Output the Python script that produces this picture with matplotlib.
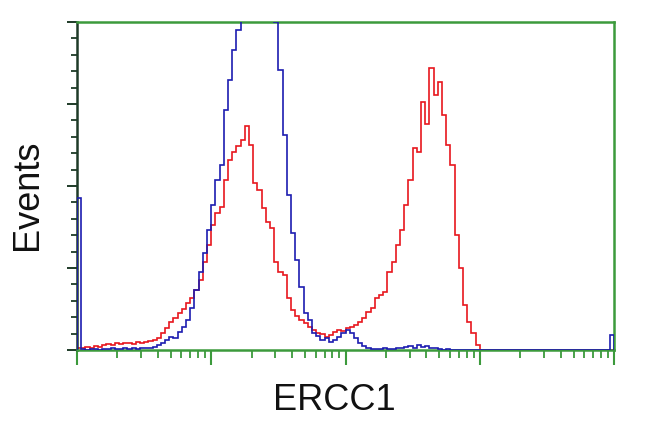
import numpy as np
import matplotlib
matplotlib.use('Agg')
from matplotlib import pyplot as plt
from matplotlib.ticker import MultipleLocator, NullFormatter

# ERCC1 flow cytometry histogram, 128 log channels over 4 decades
n_bins = 128

red_counts = [
    3, 3, 4, 3, 5, 4, 6, 7, 6, 8, 7, 8, 9, 7, 10, 9, 10, 11, 12, 15,
    21, 27, 34, 39, 45, 50, 57, 63, 73, 85, 107, 128, 153, 167, 174, 207, 232, 242, 249, 256,
    273, 250, 204, 195, 173, 156, 149, 107, 95, 92, 63, 49, 41, 37, 33, 28, 24, 21, 20, 16,
    18, 22, 24, 23, 27, 28, 30, 34, 39, 46, 51, 63, 67, 71, 95, 107, 128, 146, 177, 207,
    246, 242, 303, 275, 344, 311, 327, 287, 250, 226, 140, 100, 55, 34, 21, 6, 0,
    0, 0, 0, 0, 0, 0, 0, 0, 0, 0, 0, 0, 0, 0, 0, 0, 0, 0, 0, 0,
    0, 0, 0, 0, 0, 0, 0, 0, 0, 0, 0,
]

blue_counts = [
    185, 1, 0, 1, 1, 0, 1, 1, 2, 1, 1, 2, 1, 2, 1, 2, 2, 3, 4, 6,
    8, 12, 16, 15, 22, 28, 37, 51, 73, 95, 118, 146, 177, 207, 226, 293, 329, 366, 390, 430,
    470, 495, 500, 490, 470, 450, 425, 400, 342, 262, 189, 143, 110, 77, 45, 37, 21, 17, 12, 15,
    10, 12, 16, 21, 24, 21, 15, 8, 5, 2, 1, 1, 1, 2, 1, 1, 3, 2, 4, 5,
    3, 6, 4, 5, 3, 2, 1, 0, 1, 0, 0, 0, 0, 0, 0, 0, 0, 0, 0, 0,
    0, 0, 0, 0, 0, 0, 0, 0, 0, 0, 0, 0, 0, 0, 0, 0, 0, 0, 0, 0,
    0, 0, 0, 0, 0, 0, 0, 18,
]

x_label = 'ERCC1'
y_label = 'Events'

green = '#3c9a3c'
dark = '#1e3b28'

edges = 10 ** np.linspace(0, 4, n_bins + 1)

fig = plt.figure(figsize=(6.5, 4.32), dpi=100)
ax = fig.add_axes([77 / 650, 1 - 350 / 432, 537 / 650, 328 / 432])

ax.stairs(red_counts, edges, color='#e8161e', lw=1.2, zorder=2)
ax.stairs(blue_counts, edges, color='#1c1cb0', lw=1.2, zorder=3)

ax.set_xscale('log')
ax.set_xlim(1, 1e4)
ax.set_ylim(0, 400)

for side in ['top', 'right', 'bottom']:
    ax.spines[side].set_color(green)
    ax.spines[side].set_linewidth(1.8)
ax.spines['left'].set_color(dark)
ax.spines['left'].set_linewidth(1.8)

ax.set_yticks([0, 100, 200, 300, 400])
ax.yaxis.set_minor_locator(MultipleLocator(20))
ax.xaxis.set_minor_formatter(NullFormatter())
ax.tick_params(axis='x', which='major', direction='out', length=11, width=1.5,
               color=green, labelbottom=False)
ax.tick_params(axis='x', which='minor', direction='out', length=6, width=1.3,
               color=green)
ax.tick_params(axis='y', which='major', direction='out', length=7, width=1.4,
               color=dark, labelleft=False)
ax.tick_params(axis='y', which='minor', direction='out', length=4, width=1.3,
               color=dark)

fig.text(27 / 650, 1 - 195 / 432, y_label, rotation=90, ha='center', va='center',
         fontsize=26, family='Liberation Sans', color='#111111')
fig.text(334 / 650, 1 - 410 / 432, x_label, ha='center', va='baseline',
         fontsize=26, family='Liberation Sans', color='#111111')

fig.savefig('out.png', dpi=100)
